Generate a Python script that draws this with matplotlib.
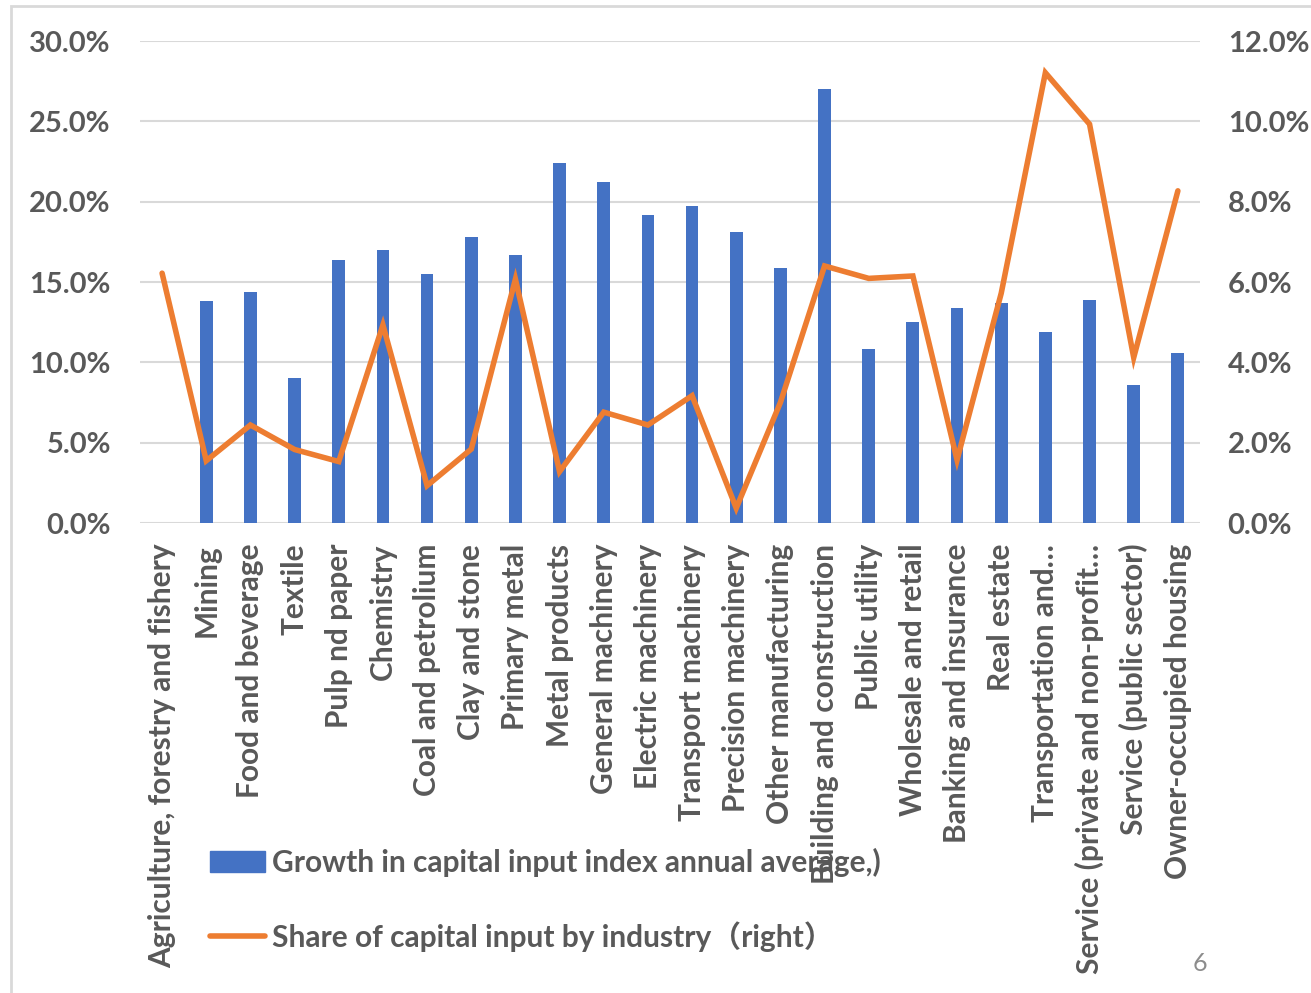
import numpy as np
import matplotlib.pyplot as plt
from matplotlib.patches import Rectangle
from matplotlib.lines import Line2D
from matplotlib.ticker import FuncFormatter

industries = ["Agriculture, forestry and fishery", "Mining", "Food and beverage",
              "Textile", "Pulp nd paper", "Chemistry", "Coal and petrolium",
              "Clay and stone", "Primary metal", "Metal products",
              "General machinery", "Electric machinery", "Transport machinery",
              "Precision machinery", "Other manufacturing",
              "Building and construction", "Public utility",
              "Wholesale and retail", "Banking and insurance", "Real estate",
              "Transportation and\u2026", "Service (private and non-profit\u2026",
              "Service (public sector)", "Owner-occupied housing"]

# growth in capital input index, annual average (left axis, %)
growth = [np.nan, 13.8, 14.4, 9.0, 16.4, 17.0, 15.5, 17.8, 16.7, 22.4,
          21.2, 19.2, 19.7, 18.1, 15.9, 27.0, 10.8, 12.5, 13.4, 13.7,
          11.9, 13.9, 8.6, 10.6]

# share of capital input by industry (right axis, %)
share = [6.22, 1.55, 2.44, 1.83, 1.53, 4.93, 0.93, 1.84, 6.07, 1.28,
         2.76, 2.44, 3.17, 0.37, 3.0, 6.4, 6.09, 6.15, 1.57, 5.72,
         11.21, 9.93, 4.12, 8.27]

label1 = "Growth in capital input index annual average,)"
label2 = "Share of capital input by industry\uff08right\uff09"

txt = "#595959"
blue = "#4472C4"
orange = "#ED7D31"
fonts = ["Lato", "Noto Sans CJK JP", "DejaVu Sans"]
plt.rcParams['font.family'] = fonts

fig = plt.figure(figsize=(13.11, 9.93), dpi=100)
ax = fig.add_axes([0.1068, 0.4733, 0.8085, 0.4854])
ax2 = ax.twinx()

x = np.arange(len(industries))
ax.bar(x, growth, width=0.29, color=blue, zorder=3)
ax2.plot(x, share, color=orange, lw=4, solid_capstyle='round',
         solid_joinstyle='miter', zorder=4)

ax.set_xlim(-0.5, len(industries) - 0.5)
ax.set_ylim(0, 30)
ax2.set_ylim(0, 12)
ax.set_yticks(np.arange(0, 31, 5))
ax2.set_yticks(np.arange(0, 13, 2))
ax.yaxis.set_major_formatter(FuncFormatter(lambda v, p: f"{v:.1f}%"))
ax2.yaxis.set_major_formatter(FuncFormatter(lambda v, p: f"{v:.1f}%"))
ax.grid(axis='y', color="#d9d9d9", lw=1.5, zorder=0)
ax.set_axisbelow(True)

for a in (ax, ax2):
    for s in a.spines.values():
        s.set_visible(False)
    a.tick_params(length=0, labelsize=21, labelcolor=txt)
    for t in a.get_yticklabels():
        t.set_fontweight('bold')
ax.tick_params(axis='y', pad=21)
ax2.tick_params(axis='y', pad=20)

ax.set_xticks(x)
ax.set_xticklabels(industries, rotation=90, fontsize=21.5, color=txt,
                   fontweight='bold', ha='center', va='top')
ax.tick_params(axis='x', pad=15)

handles = [Rectangle((0, 0), 1, 1, color=blue),
           Line2D([0], [0], color=orange, lw=4, solid_capstyle='round')]
leg = fig.legend(handles, [label1, label2], loc='center left',
                 bbox_to_anchor=(0.151, 0.0937), frameon=False,
                 fontsize=21.5, labelspacing=1.48, handlelength=1.85,
                 handletextpad=0.22, borderaxespad=0)
for t in leg.get_texts():
    t.set_color(txt)
    t.set_fontweight('bold')

fig.text(0.915, 0.03, "6", fontsize=18, color="#8c8c8c", ha='center', va='center')
fig.patches.append(Rectangle((11 / 1311, -0.1), 1.2, 1 - 6 / 993 + 0.1,
                             transform=fig.transFigure, fill=False,
                             edgecolor="#d9d9d9", lw=2))

fig.savefig("out.png", dpi=100)
